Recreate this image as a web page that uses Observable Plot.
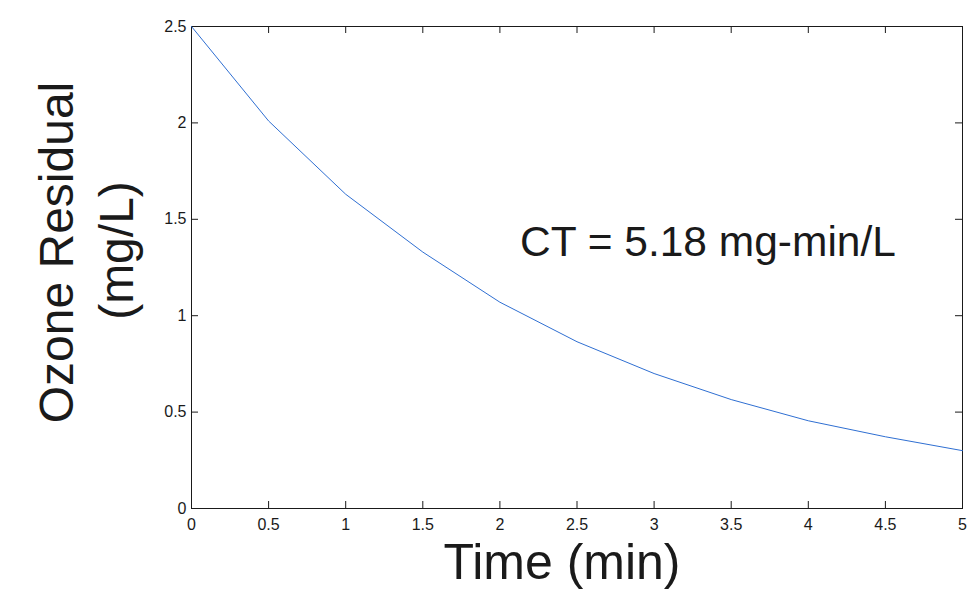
<!DOCTYPE html>
<html>
<head>
<meta charset="utf-8">
<script src="https://cdn.jsdelivr.net/npm/d3@7"></script>
<script src="https://cdn.jsdelivr.net/npm/@observablehq/plot@0.6"></script>
<style>
  html, body { margin: 0; padding: 0; background: #fff; }
  #chart { width: 976px; height: 589px; }
</style>
</head>
<body>
<div id="chart"></div>
<script>
// Data
const time = [0, 0.5, 1, 1.5, 2, 2.5, 3, 3.5, 4, 4.5, 5];
const residual = [2.5, 2.01, 1.63, 1.33, 1.07, 0.865, 0.70, 0.565, 0.455, 0.372, 0.30];
const xTicks = [0, 0.5, 1, 1.5, 2, 2.5, 3, 3.5, 4, 4.5, 5];
const yTicks = [0, 0.5, 1, 1.5, 2, 2.5];
const xLabel = "Time (min)";
const yLabelLines = ["Ozone Residual", "(mg/L)"];
const annotations = [{x: 2.13, y: 1.31, text: "CT = 5.18 mg-min/L"}];

const series = time.map((t, i) => ({t, r: residual[i]}));

const W = 976, H = 589;
const mL = 191, mR = 14, mT = 26, mB = 81;
const innerW = W - mL - mR, innerH = H - mT - mB;
const tickLen = 7;
const ink = "#1a1a1a";

const chart = Plot.plot({
  width: W,
  height: H,
  marginLeft: mL,
  marginRight: mR,
  marginTop: mT,
  marginBottom: mB,
  style: {
    fontFamily: "'Liberation Sans', Arial, Helvetica, sans-serif",
    fontSize: "16px",
    color: ink,
    background: "#fff"
  },
  x: {domain: [0, 5]},
  y: {domain: [0, 2.5]},
  marks: [
    Plot.axisX(xTicks, {tickSize: 0, tickPadding: 10, tickFormat: d => String(d), label: null, fontSize: 16}),
    Plot.axisY(yTicks, {tickSize: 0, tickPadding: 5, tickFormat: d => String(d), label: null, fontSize: 16}),
    // inward ticks (bottom, top, left, right)
    Plot.ruleX(xTicks, {x: d => d, insetTop: innerH - tickLen, stroke: ink}),
    Plot.ruleX(xTicks, {x: d => d, insetBottom: innerH - tickLen, stroke: ink}),
    Plot.ruleY(yTicks, {y: d => d, insetRight: innerW - tickLen, stroke: ink}),
    Plot.ruleY(yTicks, {y: d => d, insetLeft: innerW - tickLen, stroke: ink}),
    Plot.frame({stroke: ink, strokeWidth: 1}),
    Plot.line(series, {x: "t", y: "r", stroke: "#2f6fd2", strokeWidth: 1}),
    Plot.text(annotations, {x: "x", y: "y", text: "text", textAnchor: "start", lineAnchor: "bottom", fontSize: 42.5, fill: ink}),
    Plot.text([xLabel], {frameAnchor: "bottom", lineAnchor: "bottom", dy: 70, dx: -15, fontSize: 50, fill: ink}),
    Plot.text([yLabelLines[0]], {frameAnchor: "left", rotate: -90, lineAnchor: "bottom", textAnchor: "middle", dx: 72 - mL, dy: -15, fontSize: 48, fill: ink}),
    Plot.text([yLabelLines[1]], {frameAnchor: "left", rotate: -90, lineAnchor: "bottom", textAnchor: "middle", dx: 132 - mL, dy: -17, fontSize: 48, fill: ink})
  ]
});

document.getElementById("chart").appendChild(chart);
</script>
</body>
</html>
